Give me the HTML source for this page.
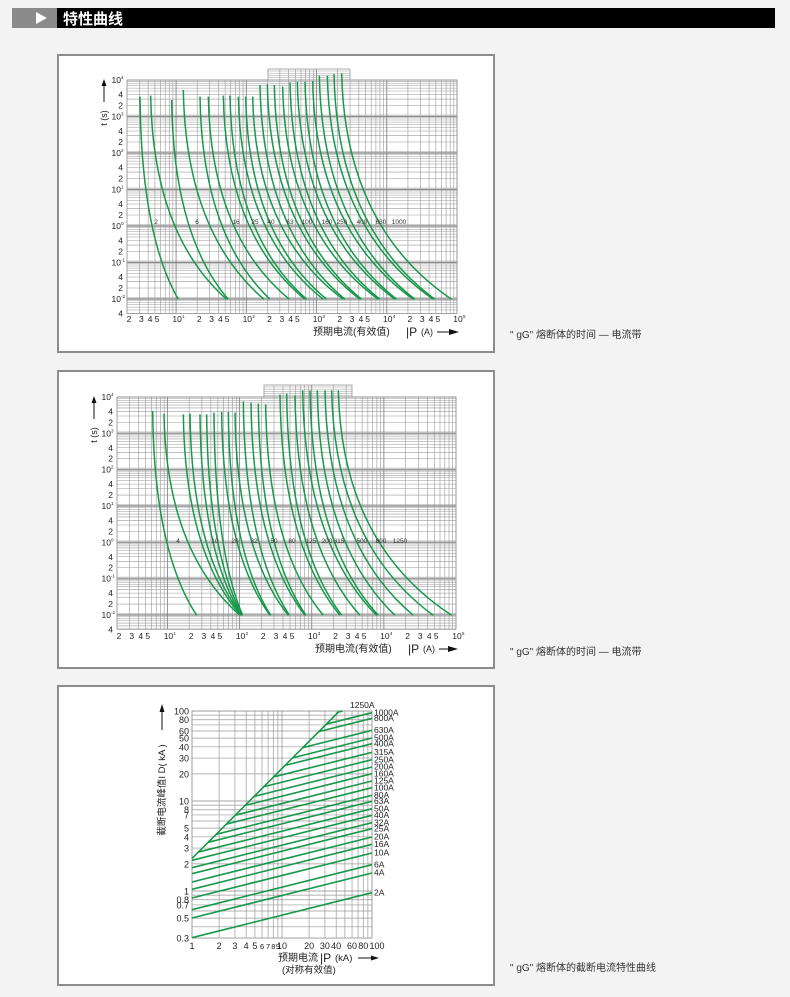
<!DOCTYPE html>
<html><head><meta charset="utf-8">
<style>
html,body{margin:0;padding:0;background:#f3f3f3;}
svg{display:block;font-family:"Liberation Sans","Noto Sans CJK SC",sans-serif;}
</style></head>
<body>
<svg id="s" xmlns="http://www.w3.org/2000/svg" width="790" height="997" viewBox="0 0 790 997">
<rect x="0" y="0" width="790" height="997" fill="#f3f3f3"/>
<rect x="12" y="8" width="45" height="20" fill="#8a8a8a"/>
<rect x="57" y="8" width="718" height="20" fill="#000"/>
<polygon points="36,12 36,24 47,18" fill="#fff"/>
<text x="63" y="24" font-size="15" font-weight="bold" fill="#fff">特性曲线</text>
<rect x="58" y="55" width="436" height="297" fill="#fff" stroke="#8c8c8c" stroke-width="2"/>
<rect x="58" y="371" width="436" height="297" fill="#fff" stroke="#8c8c8c" stroke-width="2"/>
<rect x="58" y="686" width="436" height="299" fill="#fff" stroke="#8c8c8c" stroke-width="2"/>
<text x="510" y="338" font-size="10" fill="#333">" gG"   熔断体的时间 — 电流带</text>
<text x="510" y="655" font-size="10" fill="#333">" gG"   熔断体的时间 — 电流带</text>
<text x="510" y="971" font-size="10" fill="#333">" gG"   熔断体的截断电流特性曲线</text>
<g id="g"></g>
</svg>
<script>
var NS='http://www.w3.org/2000/svg',G=document.getElementById('g');
function el(t,a,txt){var e=document.createElementNS(NS,t);for(var k in a)e.setAttribute(k,a[k]);if(txt!=null)e.textContent=txt;G.appendChild(e);return e;}
function L10(v){return Math.log(v)/Math.LN10;}
var GREEN='#17984a',GRID='#9a9a9a';
function tchart(c){
 var xlo=L10(2),xhi=5;
 function px(v){return c.L+(L10(v)-xlo)*(c.R-c.L)/(xhi-xlo);}
 function py(v){return c.top+(4-L10(v))*c.ppd;}
 el('rect',{x:c.ex0,y:c.ey,width:c.ex1-c.ex0,height:c.top-c.ey,fill:'#fff',stroke:'#999','stroke-width':0.8});
 for(var yy=c.ey+2;yy<c.top;yy+=2.2)el('line',{x1:c.ex0,x2:c.ex1,y1:yy,y2:yy,stroke:GRID,'stroke-width':0.5});
 for(var d=-3;d<=3;d++)for(var v=1;v<=9;v++){var val=v*Math.pow(10,d),lv=L10(val);if(lv<L10(0.004)-1e-6||lv>4+1e-6)continue;var y=py(val);
  if(v==1){el('rect',{x:c.L,y:y-2,width:c.R-c.L,height:4,fill:'#cfcfcf'});}
  el('line',{x1:c.L,x2:c.R,y1:y,y2:y,stroke:v==1?'#888':GRID,'stroke-width':v==1?0.9:0.55});}
 el('line',{x1:c.L,x2:c.R,y1:py(1e4),y2:py(1e4),stroke:'#888','stroke-width':0.9});
 for(var d=0;d<=5;d++)for(var v=1;v<=9;v++){var val=v*Math.pow(10,d),lv=L10(val);if(lv<xlo-1e-6||lv>xhi+1e-6)continue;var x=px(val);
  var y0=(x>=c.ex0&&x<=c.ex1)?c.ey:c.top;
  el('line',{x1:x,x2:x,y1:y0,y2:c.bot,stroke:v==1?'#888':GRID,'stroke-width':v==1?0.9:0.6});}
 el('rect',{x:c.L,y:c.top,width:c.R-c.L,height:c.bot-c.top,fill:'none',stroke:'#999','stroke-width':0.8});
 var yl=[[1e4,'10','4'],[4e3,'4'],[2e3,'2'],[1e3,'10','3'],[400,'4'],[200,'2'],[100,'10','2'],[40,'4'],[20,'2'],[10,'10','1'],[4,'4'],[2,'2'],[1,'10','0'],[.4,'4'],[.2,'2'],[.1,'10','-1'],[.04,'4'],[.02,'2'],[.01,'10','-2'],[.004,'4']];
 yl.forEach(function(a){var y=py(a[0])+3;el('text',{x:c.L-(a[2]?6:4),y:y,'font-size':8.5,'text-anchor':'end',fill:'#222'},a[1]);
  if(a[2])el('text',{x:c.L-6,y:y-4,'font-size':4.5,fill:'#222'},a[2]);});
 for(var d=0;d<=5;d++)[1,2,3,4,5].forEach(function(v){var val=v*Math.pow(10,d),lv=L10(val);if(lv<xlo-1e-6||lv>xhi+1e-6)return;var x=px(val);
  if(v==1){el('text',{x:x+1,y:c.xly,'font-size':8.5,'text-anchor':'middle',fill:'#222'},'10');el('text',{x:x+6,y:c.xly-4,'font-size':4.5,fill:'#222'},''+d);}
  else el('text',{x:x+2,y:c.xly,'font-size':8.5,'text-anchor':'middle',fill:'#222'},''+v);});
 el('text',{x:c.ax,y:c.ay,'font-size':9,fill:'#222',transform:'rotate(-90 '+c.ax+' '+c.ay+')','text-anchor':'middle'},'t (s)');
 el('line',{x1:c.ax-3,x2:c.ax-3,y1:c.ay-16,y2:c.top+2,stroke:'#111','stroke-width':1});
 el('polygon',{points:(c.ax-5.5)+','+(c.top+6)+' '+(c.ax-0.5)+','+(c.top+6)+' '+(c.ax-3)+','+(c.top-1),fill:'#111'});
 el('text',{x:c.tx,y:c.ty,'font-size':10,fill:'#222'},'预期电流(有效值) ');
 el('text',{x:c.tx+93,y:c.ty+1,'font-size':12,fill:'#222'},'|P');
 el('text',{x:c.tx+108,y:c.ty,'font-size':9,fill:'#222'},'(A)');
 el('line',{x1:c.tx+124,x2:c.R,y1:c.ty-3,y2:c.ty-3,stroke:'#111','stroke-width':1});
 el('polygon',{points:(c.R-8)+','+(c.ty-6)+' '+(c.R-8)+','+c.ty+' '+(c.R+2)+','+(c.ty-3),fill:'#111'});
 c.tops.forEach(function(t,i){var x0=t[0]/3+60,y0=t[1]/3+c.oy,x1=c.bots[i]/3+60,yb=c.byz/3+c.oy;var dx=x1-x0,dy=yb-y0;
  el('path',{d:'M'+x0+' '+y0+' Q'+(x0+0.03*dx)+' '+(y0+0.68*dy)+' '+x1+' '+yb,fill:'none',stroke:GREEN,'stroke-width':1.5});});
 c.labs.forEach(function(a,i){el('text',{x:c.lx[i],y:c.ly,'font-size':6.5,'text-anchor':'middle',fill:'#333'},a);});
}
tchart({L:127,R:457,top:80,ppd:36.5,bot:313.5,ex0:268,ex1:350,ey:69,xly:322,ax:107,ay:118,tx:313,ty:335,oy:55,byz:733,
 tops:[[240,125],[272,122],[335,135],[370,105],[420,125],[445,125],[490,122],[510,122],[535,125],[557,125],[578,125],[600,90],[622,88],[643,90],[668,95],[690,82],[712,80],[735,80],[758,78],[778,62],[802,62],[822,57],[845,55]],
 bots:[355,500,505,612,630,688,735,740,790,800,850,855,900,905,955,960,1005,1010,1060,1065,1120,1125,1175],
 labs:['2','6','16','25','40','63','100','160','250','400','630','1000'],lx:[156,197,236,255,271,290,307,327,342,362,381,399],ly:224});
tchart({L:117,R:456,top:397,ppd:36.33,bot:629,ex0:264,ex1:352,ey:385,xly:639,ax:97,ay:435,tx:315,ty:652,oy:372,byz:730,
 tops:[[278,117],[312,125],[370,127],[390,125],[420,127],[440,127],[462,122],[485,120],[505,120],[525,122],[550,88],[573,92],[595,95],[617,97],[660,68],[680,65],[705,70],[728,55],[750,55],[772,55],[795,55],[815,55],[835,55]],
 bots:[410,540,542,545,545,547,548,630,632,685,688,735,738,790,840,845,900,950,955,1005,1060,1120,1175],
 labs:['4','10','20','32','50','80','125','200','315','500','800','1250'],lx:[178,215,235,254,274,292,311,327,339,362,381,400],ly:543});
(function(){var L=192,T=711,P=90;
 function px(v){return L+L10(v)*P;} function py(v){return T+(2-L10(v))*P;}
 var B=py(0.3),R=px(100);
 var ys=[.3,.4,.5,.6,.7,.8,.9,1,2,3,4,5,6,7,8,9,10,20,30,40,50,60,70,80,90,100];
 ys.forEach(function(v){var y=py(v);el('line',{x1:L,x2:R,y1:y,y2:y,stroke:(v==1||v==10||v==100)?'#888':GRID,'stroke-width':0.7});});
 var xs=[1,2,3,4,5,6,7,8,9,10,20,30,40,50,60,70,80,90,100];
 xs.forEach(function(v){var x=px(v);el('line',{x1:x,x2:x,y1:T,y2:B,stroke:(v==1||v==10||v==100)?'#888':GRID,'stroke-width':0.7});});
 el('rect',{x:L,y:T,width:R-L,height:B-T,fill:'none',stroke:'#999','stroke-width':0.8});
 [[100,'100'],[80,'80'],[60,'60'],[50,'50'],[40,'40'],[30,'30'],[20,'20'],[10,'10'],[8,'8'],[7,'7'],[5,'5'],[4,'4'],[3,'3'],[2,'2'],[1,'1'],[.8,'0.8'],[.7,'0.7'],[.5,'0.5'],[.3,'0.3']].forEach(function(a){
  el('text',{x:L-3,y:py(a[0])+3.5,'font-size':9,'text-anchor':'end',fill:'#222'},a[1]);});
 [[1,'1'],[2,'2'],[3,'3'],[4,'4'],[5,'5'],[6,'6'],[7,'7'],[8,'8'],[9,'9'],[10,'10'],[20,'20'],[30,'30'],[40,'40'],[60,'60'],[80,'80'],[100,'100']].forEach(function(a){
  var fs=(a[0]>=6&&a[0]<=9)?7.5:9;el('text',{x:px(a[0])+(a[0]==100?5:0),y:B+11,'font-size':fs,'text-anchor':'middle',fill:'#222'},a[1]);});
 var d0=L10(2.3);var xe=2-d0;
 el('line',{x1:px(1),y1:py(2.3),x2:L+xe*P,y2:T,stroke:GREEN,'stroke-width':1.6});
 var s=0.25;
 var labs=[['2A',607],['4A',548],['6A',523],['10A',488],['16A',462],['20A',440],['25A',415],['32A',397],['40A',375],['50A',355],['63A',333],['80A',315],['100A',292],['125A',272],['160A',250],['200A',230],['250A',208],['315A',186],['400A',160],['500A',143],['630A',120],['800A',84],['1000A',67],['1250A',40]];
 labs.forEach(function(a,i){var yR=2-(a[1]-62)/270;var xs0=(yR-2*s-d0)/(1-s);if(xs0<0)xs0=0;var ys0=yR-s*(2-xs0);
  var xe2=2,ye2=yR;if(ye2>2){xe2=2-(ye2-2)/s;ye2=2;}
  el('line',{x1:L+xs0*P,y1:T+(2-ys0)*P,x2:L+xe2*P,y2:T+(2-ye2)*P,stroke:GREEN,'stroke-width':1.6});
  if(a[0]=='1250A')el('text',{x:350,y:708,'font-size':8.5,fill:'#222'},a[0]);
  else el('text',{x:R+2,y:a[1]/3+690+3,'font-size':8.5,fill:'#222'},a[0]);});
 el('text',{x:165,y:790,'font-size':9.5,fill:'#222',transform:'rotate(-90 165 790)','text-anchor':'middle'},'截断电流峰值I D( kA )');
 el('line',{x1:162,x2:162,y1:730,y2:708,stroke:'#111','stroke-width':1});
 el('polygon',{points:'159.5,712 164.5,712 162,704',fill:'#111'});
 el('text',{x:278,y:961,'font-size':10,fill:'#222'},'预期电流');
 el('text',{x:320,y:962,'font-size':12,fill:'#222'},'|P');
 el('text',{x:335,y:961,'font-size':9.5,fill:'#222'},'(kA)');
 el('line',{x1:358,x2:376,y1:958,y2:958,stroke:'#111','stroke-width':1});
 el('polygon',{points:'371,955.5 371,960.5 379,958',fill:'#111'});
 el('text',{x:282,y:973,'font-size':9.5,fill:'#222'},'(对称有效值)');
})();
</script>
</body></html>
